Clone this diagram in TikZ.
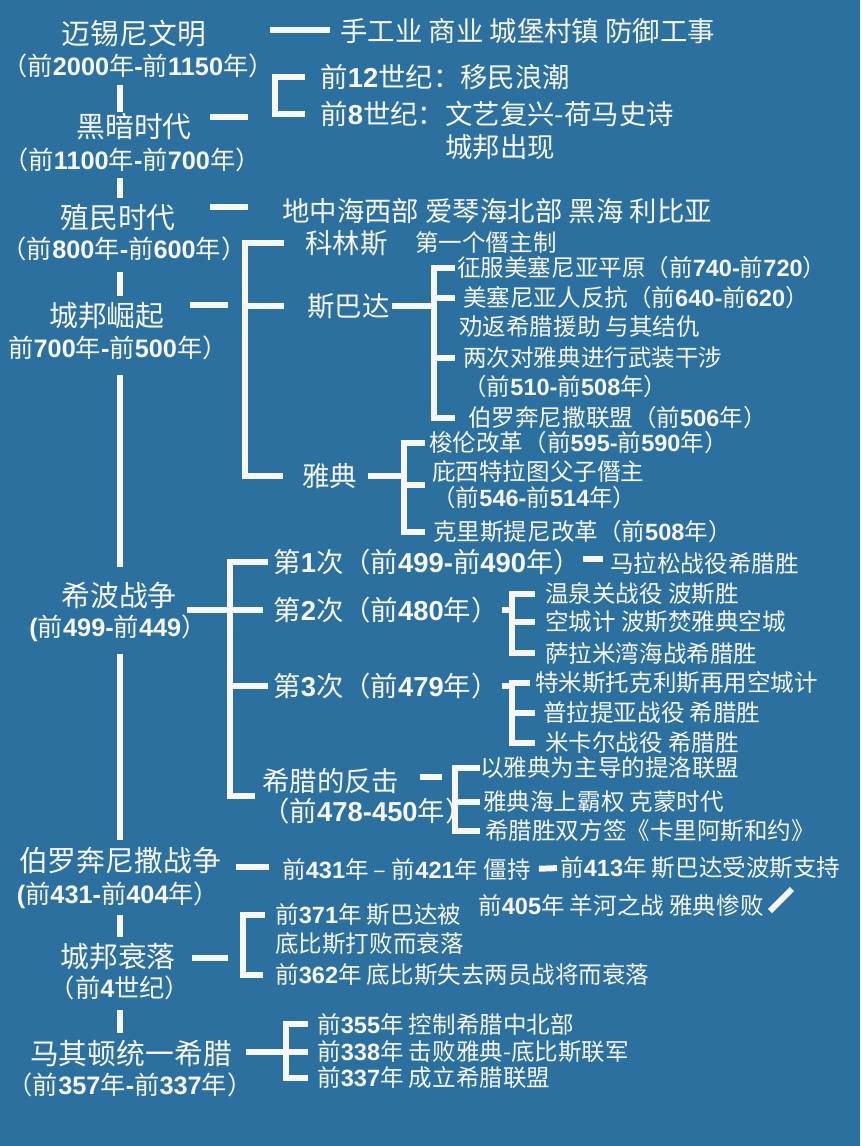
\documentclass[tikz,border=0pt]{standalone}
\usepackage{fontspec}
\setmainfont{Noto Sans CJK SC}
\newfontfamily\numfont{Liberation Sans}
\usepackage{tikz}
\usetikzlibrary{calc}

\definecolor{board}{RGB}{43,112,159}
\definecolor{chalk}{RGB}{247,247,247}
% 年份数字用粗体
\newcommand{\yr}[1]{{\numfont\bfseries #1}}

\begin{document}
\begin{tikzpicture}[x=0.02cm, y=-0.02cm,
    tline/.style={draw=chalk, line width=3.4pt},
    era/.style={text=chalk, inner sep=0pt, font=\fontsize{16.4}{18}\selectfont},
    eradate/.style={text=chalk, inner sep=0pt, font=\fontsize{14.4}{17}\selectfont},
    topic/.style={text=chalk, inner sep=0pt, anchor=west, align=left, font=\fontsize{15.6}{17}\selectfont},
    fact/.style={text=chalk, inner sep=0pt, anchor=west, align=left, font=\fontsize{13.4}{14.7}\selectfont}]
    \path[use as bounding box, fill=board] (0,0) rectangle (860,1146);

    % 主线：各个时期
    \node[era] (myc) at (134,34) {迈锡尼文明};
    \node[eradate] (myc-d) at (138,66) {（前\yr{2000}年\yr{-}前\yr{1150}年）};
    \node[era] (dark) at (134,127) {黑暗时代};
    \node[eradate] (dark-d) at (132,160) {（前\yr{1100}年\yr{-}前\yr{700}年）};
    \node[era] (col) at (118,218) {殖民时代};
    \node[eradate] (col-d) at (124,249) {（前\yr{800}年\yr{-}前\yr{600}年）};
    \node[era] (rise) at (107,316) {城邦崛起};
    \node[eradate] (rise-d) at (118,348) {前\yr{700}年\yr{-}前\yr{500}年）};
    \node[era] (gpw) at (119,596) {希波战争};
    \node[eradate] (gpw-d) at (118,628) {\yr{(}前\yr{499-}前\yr{449}）};
    \node[era] (pel) at (120,861) {伯罗奔尼撒战争};
    \node[eradate] (pel-d) at (118,895) {\yr{(}前\yr{431-}前\yr{404}年）};
    \node[era] (dec) at (118,957) {城邦衰落};
    \node[eradate] (dec-d) at (120,988) {（前\yr{4}世纪）};
    \node[era] (mac) at (131,1053) {马其顿统一希腊};
    \node[eradate] (mac-d) at (130,1085) {（前\yr{357}年\yr{-}前\yr{337}年）};

    \coordinate (axis) at (120,0);
    \foreach \a/\b/\s/\e in {myc-d/dark/4pt/0.6pt, dark-d/col/3.4pt/3.4pt, col-d/rise/6.2pt/3.4pt,
        rise-d/gpw/8.5pt/8.5pt, gpw-d/pel/6.8pt/4pt, pel-d/dec/3.4pt/3.4pt, dec-d/mac/5.7pt/3.4pt}
      \draw[tline, shorten <=\s, shorten >=\e] (axis |- \a.south) -- (axis |- \b.north);

    % 迈锡尼文明
    \node[topic] (craft) at (340,31) {手工业 商业 城堡村镇 防御工事};
    \draw[tline] ($(craft.west)+(-70,-1)$) -- ++(60,0);

    % 黑暗时代
    \node[topic] (mig) at (320,77) {前\yr{12}世纪：移民浪潮};
    \node[topic] (epic) at (320,114) {前\yr{8}世纪：文艺复兴-荷马史诗};
    \node[topic] (poleis) at (445,147) {城邦出现};
    \coordinate (dark-b) at (275,0);
    \draw[tline] ($(dark.east)+(18,-10)$) -- ++(38,0);
    \draw[tline, shorten <=8.5pt, shorten >=8.5pt] (mig.west) -| (dark-b |- epic) -- (epic.west);

    % 殖民时代
    \node[topic] (colony) at (282,211) {地中海西部 爱琴海北部 黑海 利比亚};
    \draw[tline] ($(colony.west)+(-72,-4)$) -- ++(38,0);

    % 城邦崛起
    \node[topic] (cor) at (305,243) {科林斯};
    \node[fact] (tyr) at (415,243) {第一个僭主制};
    \node[topic] (spa) at (307,306) {斯巴达};
    \node[topic] (ath) at (302,476) {雅典};
    \coordinate (rise-b) at (245,0);
    \draw[tline] ($(rise.east)+(25,-11)$) -- ++(38,0);
    \draw[tline, shorten <=12pt, shorten >=11pt] (cor.west) -| (rise-b |- ath) -- (ath.west);
    \draw[tline, shorten >=13pt] (rise-b |- spa) -- (spa.west);

    \node[fact] (spa1) at (457,268) {征服美塞尼亚平原（前\yr{740-}前\yr{720}）};
    \node[fact] (spa2) at (463,298) {美塞尼亚人反抗（前\yr{640-}前\yr{620}）};
    \node[fact] (spa2b) at (459,327) {劝返希腊援助 与其结仇};
    \node[fact] (spa3) at (463,358) {两次对雅典进行武装干涉};
    \node[fact] (spa3b) at (463,387) {（前\yr{510-}前\yr{508}年）};
    \node[fact] (spa4) at (468,418) {伯罗奔尼撒联盟（前\yr{506}年）};
    \coordinate (spa-b) at (434,0);
    \draw[tline, shorten <=1.4pt] (spa.east) -- (spa-b |- spa);
    \draw[tline, shorten <=1pt, shorten >=7.4pt] (spa1.west) -| (spa-b |- spa4) -- (spa4.west);
    \draw[tline, shorten >=4.5pt] (spa-b |- spa2) -- (spa2.west);
    \draw[tline, shorten >=4.5pt] (spa-b |- spa3) -- (spa3.west);

    \node[fact] (ath1) at (429,443) {梭伦改革（前\yr{595-}前\yr{590}年）};
    \node[fact] (ath2) at (432,485) {庇西特拉图父子僭主\\（前\yr{546-}前\yr{514}年）};
    \node[fact] (ath3) at (433,532) {克里斯提尼改革（前\yr{508}年）};
    \coordinate (ath-b) at (404,0);
    \draw[tline, shorten <=6pt] (ath.east) -- (ath-b |- ath);
    \draw[tline, shorten <=2.3pt, shorten >=4.5pt] (ath1.west) -| (ath-b |- ath3) -- (ath3.west);
    \draw[tline, shorten >=4pt] (ath-b |- ath2) -- (ath2.west);

    % 希波战争
    \node[topic] (war1) at (273,562) {第\yr{1}次（前\yr{499-}前\yr{490}年）};
    \node[topic] (war2) at (273,610) {第\yr{2}次（前\yr{480}年）};
    \node[topic] (war3) at (273,686) {第\yr{3}次（前\yr{479}年）};
    \node[topic] (war4) at (262,796) {希腊的反击\\（前\yr{478-450}年）};
    \coordinate (gpw-b) at (230,0);
    \draw[tline] ($(gpw.east)+(10,14)$) -- (gpw-b |- war2);
    \draw[tline, shorten <=2.8pt, shorten >=4pt] (war1.west) -| (gpw-b |- war4) -- (war4.west);
    \draw[tline, shorten >=5.7pt] (gpw-b |- war2) -- (war2.west);
    \draw[tline, shorten >=2.8pt] (gpw-b |- war3) -- (war3.west);

    \node[fact] (mara) at (610,564) {马拉松战役希腊胜};
    \draw[tline] ($(war1.east)+(2,-3)$) -- ++(20,0);

    \node[fact] (thermo) at (545,594) {温泉关战役 波斯胜};
    \node[fact] (empty) at (545,622) {空城计 波斯焚雅典空城};
    \node[fact] (salam) at (545,653) {萨拉米湾海战希腊胜};
    \coordinate (w2-b) at (512,0);
    \draw[tline, shorten <=1.7pt] (war2.east) -- (w2-b |- war2);
    \draw[tline, shorten <=5.7pt, shorten >=5.7pt] (thermo.west) -| (w2-b |- salam) -- (salam.west);
    \draw[tline, shorten >=5.7pt] (w2-b |- empty) -- (empty.west);

    \node[fact] (themi) at (535,683) {特米斯托克利斯再用空城计};
    \node[fact] (plat) at (543,713) {普拉提亚战役 希腊胜};
    \node[fact] (myca) at (545,743) {米卡尔战役 希腊胜};
    \coordinate (w3-b) at (512,0);
    \draw[tline, shorten <=1.7pt] (war3.east) -- (w3-b |- war3);
    \draw[tline, shorten <=2.8pt, shorten >=5.7pt] (themi.west) -| (w3-b |- myca) -- (myca.west);
    \draw[tline, shorten >=4.5pt] (w3-b |- plat) -- (plat.west);

    \node[fact] (delos) at (480,768) {以雅典为主导的提洛联盟};
    \node[fact] (cimon) at (483,802) {雅典海上霸权 克蒙时代};
    \node[fact] (callias) at (485,831) {希腊胜双方签《卡里阿斯和约》};
    \coordinate (w4-b) at (455,0);
    \draw[tline] ($(w4-b |- delos)+(-35,9)$) -- ++(22,0);
    \draw[tline, shorten >=2.8pt] (delos.west) -| (w4-b |- callias) -- (callias.west);
    \draw[tline, shorten >=1.7pt] (w4-b |- cimon) -- (cimon.west);

    % 伯罗奔尼撒战争
    \node[fact] (pel1) at (282,869) {前\yr{431}年 – 前\yr{421}年 僵持};
    \node[fact] (pel2) at (560,868) {前\yr{413}年 斯巴达受波斯支持};
    \node[fact] (pel3) at (478,905) {前\yr{405}年 羊河之战 雅典惨败};
    \draw[tline] ($(pel.east)+(15,6)$) -- ++(33,0);
    \draw[tline, shorten <=4.5pt, shorten >=1.7pt] (pel1.east) -- (pel2.west);
    \draw[tline] ($(pel3.east)+(6,6)$) -- ++(22,-22);

    % 城邦衰落
    \node[fact] (dec1) at (275,915) {前\yr{371}年 斯巴达被};
    \node[fact] (dec2) at (275,944) {底比斯打败而衰落};
    \node[fact] (dec3) at (275,975) {前\yr{362}年 底比斯失去两员战将而衰落};
    \coordinate (dec-b) at (243,0);
    \draw[tline] ($(dec.east)+(16,1)$) -- ++(36,0);
    \draw[tline, shorten <=5.7pt, shorten >=7pt] (dec1.west) -| (dec-b |- dec3) -- (dec3.west);

    % 马其顿统一希腊
    \node[fact] (mac1) at (317,1024) {前\yr{355}年 控制希腊中北部};
    \node[fact] (mac2) at (317,1052) {前\yr{338}年 击败雅典-底比斯联军};
    \node[fact] (mac3) at (317,1078) {前\yr{337}年 成立希腊联盟};
    \coordinate (mac-b) at (286,0);
    \draw[tline, shorten <=8pt] (mac.east |- mac2) -- (mac-b |- mac2);
    \draw[tline, shorten <=5pt, shorten >=5pt] (mac1.west) -| (mac-b |- mac3) -- (mac3.west);
    \draw[tline, shorten >=5pt] (mac-b |- mac2) -- (mac2.west);
  \end{tikzpicture}
\end{document}
